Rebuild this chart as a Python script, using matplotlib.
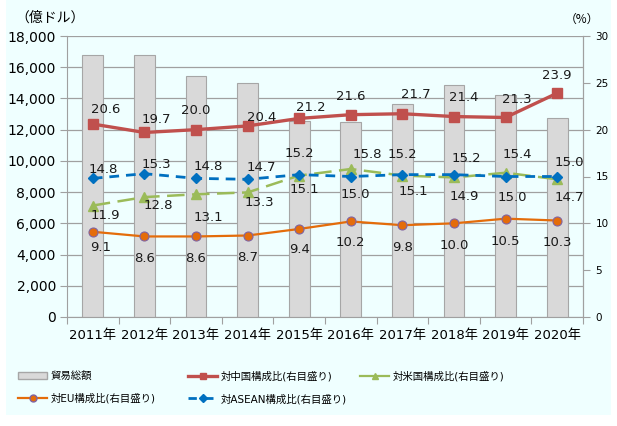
import matplotlib
matplotlib.use("Agg")
import matplotlib.pyplot as plt
import numpy as np
from matplotlib.lines import Line2D
from matplotlib.patches import Patch, Rectangle

plt.rcParams["font.family"] = ["DejaVu Sans", "Noto Sans CJK JP"]

# data
years = ["2011年", "2012年", "2013年", "2014年", "2015年",
         "2016年", "2017年", "2018年", "2019年", "2020年"]
trade_total = [16800, 16800, 15450, 15000, 12550, 12480, 13630, 14830, 14190, 12740]
china = [20.6, 19.7, 20.0, 20.4, 21.2, 21.6, 21.7, 21.4, 21.3, 23.9]
usa = [11.9, 12.8, 13.1, 13.3, 15.1, 15.8, 15.1, 14.9, 15.4, 14.7]
eu = [9.1, 8.6, 8.6, 8.7, 9.4, 10.2, 9.8, 10.0, 10.5, 10.3]
asean = [14.8, 15.3, 14.8, 14.7, 15.2, 15.0, 15.2, 15.2, 15.0, 15.0]

# label offsets in pixels (dx, dy up)
china_off = [(13, 15), (12, 13), (0, 19), (14, 8), (12, 11),
             (0, 18), (13, 19), (10, 19), (11, 18), (0, 18)]
usa_off = [(13, -10), (14, -8), (12, -23), (12, -10), (5, -14),
           (17, 15), (11, -16), (10, -19), (12, 18), (12, -18)]
eu_off = [(8, -16), (0, -22), (0, -22), (0, -22), (0, -21),
          (0, -21), (0, -22), (0, -22), (0, -23), (0, -22)]
asean_off = [(10, 9), (12, 9), (12, 12), (14, 12), (0, 21),
             (5, -18), (0, 20), (12, 16), (7, -21), (12, 14)]

fig = plt.figure(figsize=(6.17, 4.26), dpi=100)
fig.patch.set_facecolor("white")
fig.patches.append(Rectangle((6 / 617, 11 / 426), 605 / 617, 415 / 426,
                             transform=fig.transFigure, facecolor="#EFFFFF",
                             edgecolor="none", zorder=-10))

ax = fig.add_axes([67 / 617, 1 - 317 / 426, 516 / 617, 281 / 426])
ax.set_facecolor("none")
x = np.arange(len(years))
grid_c = "#A0A0A0"

ax.bar(x, trade_total, width=0.4, color="#D9D9D9", edgecolor="#A6A6A6",
       linewidth=0.8, zorder=2)
ax.set_xlim(-0.5, 9.5)
ax.set_ylim(0, 18000)
ax.set_yticks(np.arange(0, 18001, 2000))
ax.set_yticklabels([f"{v:,}" for v in range(0, 18001, 2000)])
ax.yaxis.grid(True, color=grid_c, linewidth=0.9)
ax.set_axisbelow(True)
ax.set_xticks(np.arange(-0.5, 10, 1))
ax.set_xticklabels([])
ax.set_xticks(x, minor=True)
ax.set_xticklabels(years, minor=True, fontsize=9.5)
ax.tick_params(axis="x", which="major", length=5, color=grid_c)
ax.tick_params(axis="x", which="minor", length=0, pad=9)
ax.tick_params(axis="y", length=5, color=grid_c, labelsize=10, pad=3)
for s in ["left", "bottom", "right"]:
    ax.spines[s].set_color(grid_c)
ax.spines["top"].set_visible(False)

ax2 = ax.twinx()
ax2.set_ylim(0, 30)
ax2.set_yticks(np.arange(0, 31, 5))
ax2.tick_params(axis="y", length=5, color=grid_c, labelsize=7.5, pad=4)
for s in ax2.spines.values():
    s.set_visible(False)
ax2.spines["right"].set_visible(True)
ax2.spines["right"].set_color(grid_c)

ax2.plot(x, eu, color="#E46C0A", lw=1.6, marker="o", ms=6.5,
         mfc="#E46C0A", mec="#8064A2", mew=0.8, zorder=3)
ax2.plot(x, usa, color="#9BBB59", lw=1.8, dashes=(7, 3), marker="^", ms=6.5,
         mfc="#9BBB59", mec="#9BBB59", zorder=4)
ax2.plot(x, asean, color="#0070C0", lw=2.0, dashes=(3.5, 2.5), marker="D",
         ms=5.5, mfc="#0070C0", mec="#0070C0", zorder=5)
ax2.plot(x, china, color="#C0504D", lw=2.4, marker="s", ms=6.5,
         mfc="#C0504D", mec="#C0504D", zorder=6)


def put_labels(vals, offs):
    for i, (v, (dx, dy)) in enumerate(zip(vals, offs)):
        ax2.annotate(f"{v:.1f}", (i, v), xytext=(dx, dy),
                     textcoords="offset pixels", ha="center", va="center",
                     fontsize=9.5, color="#1A1A1A", zorder=10)


put_labels(china, china_off)
put_labels(usa, usa_off)
put_labels(eu, eu_off)
put_labels(asean, asean_off)

fig.text(15 / 617, 1 - 18 / 426, "（億ドル）", ha="left", va="center",
         fontsize=10, family=["Noto Sans CJK JP"])
fig.text(582 / 617, 1 - 19 / 426, "（%）", ha="center", va="center",
         fontsize=8.5, family=["Noto Sans CJK JP"])

# legend: three columns placed like the Excel layout
h_total = Patch(facecolor="#D9D9D9", edgecolor="#A6A6A6")
h_eu = Line2D([], [], color="#E46C0A", lw=1.6, marker="o", ms=5,
              mfc="#E46C0A", mec="#8064A2")
h_china = Line2D([], [], color="#C0504D", lw=2.4, marker="s", ms=5)
h_asean = Line2D([], [], color="#0070C0", lw=2.0, dashes=(3, 3), marker="D", ms=4)
h_usa = Line2D([], [], color="#9BBB59", lw=1.6, marker="^", ms=5)

columns = [
    (18, [h_total, h_eu], ["貿易総額", "対EU構成比(右目盛り)"]),
    (188, [h_china, h_asean], ["対中国構成比(右目盛り)", "対ASEAN構成比(右目盛り)"]),
    (360, [h_usa], ["対米国構成比(右目盛り)"]),
]
for x0, hs, ls in columns:
    fig.legend(hs, ls, loc="upper left",
               bbox_to_anchor=(x0 / 617, 1 - 371 / 426), frameon=False,
               prop={"family": ["DejaVu Sans", "Noto Sans CJK JP"], "size": 7.5},
               handlelength=2.8, handletextpad=0.3, labelspacing=1.15,
               borderpad=0, borderaxespad=0)

fig.savefig("out.png", dpi=100)
